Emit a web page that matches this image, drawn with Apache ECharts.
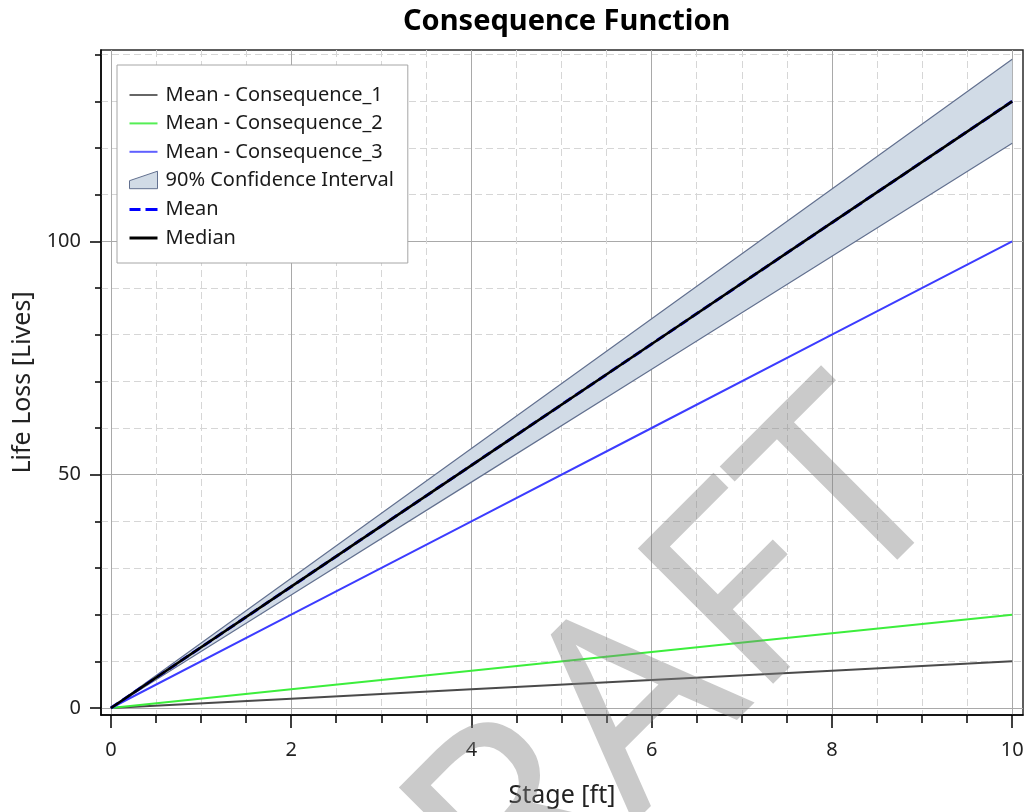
<!DOCTYPE html>
<html>
<head>
<meta charset="utf-8">
<title>Consequence Function</title>
<script src="https://cdn.jsdelivr.net/npm/echarts@6/dist/echarts.min.js"></script>
<style>
  html, body { margin: 0; padding: 0; background: #ffffff; }
  #chart { width: 1027px; height: 812px; }
</style>
</head>
<body>
<div id="chart"></div>
<script>
// Stage values (ft) and life loss per curve
const stage = [0, 2, 4, 6, 8, 10];
const consequence1 = [0, 2, 4, 6, 8, 10];
const consequence2 = [0, 4, 8, 12, 16, 20];
const consequence3 = [0, 20, 40, 60, 80, 100];
const meanTotal = [0, 26, 52, 78, 104, 130];
const medianTotal = [0, 26, 52, 78, 104, 130];
const ciLower = [0, 24.2, 48.4, 72.6, 96.8, 121];
const ciUpper = [0, 27.8, 55.6, 83.4, 111.2, 139];

// Axis ticks
const xMajorTicks = [0, 2, 4, 6, 8, 10];
const xMinorTicks = [0.5, 1, 1.5, 2.5, 3, 3.5, 4.5, 5, 5.5, 6.5, 7, 7.5, 8.5, 9, 9.5];
const yMajorTicks = [0, 50, 100];
const yMinorTicks = [10, 20, 30, 40, 60, 70, 80, 90, 110, 120, 130, 140];

const FONT = '"Noto Sans", "Open Sans", sans-serif';
const pairs = (ys) => stage.map((x, i) => [x, ys[i]]);

const X_RANGE = { min: -0.11, max: 10.12 };
const Y_RANGE = { min: -1.5, max: 141 };

// Legend icon shapes (degenerate corner points fix the icon box to 32x20)
const BOX = 'M0,0 L0,0 M32,20 L32,20 ';
const ICON_LINE = 'path://' + BOX + 'M1,9 L29,9 L29,11 L1,11 Z';
const ICON_THICK = 'path://' + BOX + 'M1,8.5 L29,8.5 L29,11.5 L1,11.5 Z';
const ICON_DASH = 'path://' + BOX + 'M1,8.5 L12,8.5 L12,11.5 L1,11.5 Z M17,8.5 L29,8.5 L29,11.5 L17,11.5 Z';
const ICON_BAND = 'path://' + BOX + 'M1,10 L29,0.5 L29,18 L1,18 Z';

const BAND_FILL = '#d1dbe6';
const BAND_EDGE = '#62708f';

// Shaded 90% band: one polygon running along the upper bound and back along the lower bound
function renderBand(params, api) {
  if (params.dataIndex !== 0) return null;
  const pts = [];
  for (let i = 0; i < stage.length; i++) pts.push(api.coord([stage[i], ciUpper[i]]));
  for (let i = stage.length - 1; i >= 0; i--) pts.push(api.coord([stage[i], ciLower[i]]));
  return {
    type: 'polygon',
    shape: { points: pts },
    style: { fill: BAND_FILL, stroke: null }
  };
}

const chart = echarts.init(document.getElementById('chart'), null, { renderer: 'canvas' });

const minorSplit = { show: true, lineStyle: { color: '#d6d6d6', width: 1, type: [7, 4] } };
const majorSplit = { show: true, lineStyle: { color: '#a9a9a9', width: 1 } };

chart.setOption({
  animation: false,
  backgroundColor: '#ffffff',
  title: {
    text: 'Consequence Function',
    left: 398,
    top: 2,
    textStyle: { fontFamily: FONT, fontSize: 29, fontWeight: 'bold', color: '#000000' }
  },
  grid: {
    left: 101, right: 4, top: 50, bottom: 97,
    show: true, borderColor: '#2a2a2a', borderWidth: 1.5,
    backgroundColor: '#ffffff',
    containLabel: false,
    outerBoundsMode: 'none'
  },
  legend: {
    orient: 'vertical',
    left: 117,
    top: 65,
    padding: [20, 14, 15, 11],
    itemWidth: 32,
    itemHeight: 20,
    itemGap: 8.4,
    backgroundColor: '#ffffff',
    borderColor: '#a6a6a6',
    borderWidth: 1,
    borderRadius: 0,
    selectedMode: false,
    textStyle: { fontFamily: FONT, fontSize: 20, color: '#1a1a1a', lineHeight: 20 },
    data: [
      { name: 'Mean - Consequence_1', icon: ICON_LINE, itemStyle: { color: '#666666', borderWidth: 0 } },
      { name: 'Mean - Consequence_2', icon: ICON_LINE, itemStyle: { color: '#55ee55', borderWidth: 0 } },
      { name: 'Mean - Consequence_3', icon: ICON_LINE, itemStyle: { color: '#6060ff', borderWidth: 0 } },
      { name: '90% Confidence Interval', icon: ICON_BAND, itemStyle: { color: BAND_FILL, borderColor: BAND_EDGE, borderWidth: 1 } },
      { name: 'Mean', icon: ICON_DASH, itemStyle: { color: '#0000ff', borderWidth: 0 } },
      { name: 'Median', icon: ICON_THICK, itemStyle: { color: '#000000', borderWidth: 0 } }
    ]
  },
  xAxis: [
    {
      type: 'value', gridIndex: 0, position: 'bottom',
      min: X_RANGE.min, max: X_RANGE.max,
      name: 'Stage [ft]', nameLocation: 'middle', nameGap: 68,
      nameTextStyle: { fontFamily: FONT, fontSize: 25, color: '#222222' },
      axisLine: { show: true, onZero: false, lineStyle: { color: '#000000', width: 1.5 } },
      axisTick: { show: true, inside: false, length: 13, customValues: xMajorTicks, lineStyle: { color: '#000000', width: 1.5 } },
      axisLabel: { show: true, customValues: xMajorTicks, margin: 25, fontFamily: FONT, fontSize: 20, color: '#222222' },
      splitLine: majorSplit
    },
    {
      type: 'value', gridIndex: 0, position: 'bottom',
      min: X_RANGE.min, max: X_RANGE.max,
      axisLine: { show: false, onZero: false },
      axisTick: { show: true, inside: false, length: 8, customValues: xMinorTicks, lineStyle: { color: '#000000', width: 1.5 } },
      axisLabel: { show: false },
      splitLine: minorSplit
    }
  ],
  yAxis: [
    {
      type: 'value', gridIndex: 0, position: 'left',
      min: Y_RANGE.min, max: Y_RANGE.max,
      name: 'Life Loss [Lives]', nameLocation: 'middle', nameGap: 64,
      nameTextStyle: { fontFamily: FONT, fontSize: 25, color: '#222222' },
      axisLine: { show: true, onZero: false, lineStyle: { color: '#000000', width: 1.5 } },
      axisTick: { show: true, inside: false, length: 11, customValues: yMajorTicks, lineStyle: { color: '#000000', width: 1.5 } },
      axisLabel: { show: true, customValues: yMajorTicks, margin: 20, fontFamily: FONT, fontSize: 20, color: '#222222' },
      splitLine: majorSplit
    },
    {
      type: 'value', gridIndex: 0, position: 'left',
      min: Y_RANGE.min, max: Y_RANGE.max,
      axisLine: { show: false, onZero: false },
      axisTick: { show: true, inside: false, length: 6, customValues: yMinorTicks, lineStyle: { color: '#000000', width: 1.5 } },
      axisLabel: { show: false },
      splitLine: minorSplit
    }
  ],
  series: [
    {
      name: '90% Confidence Interval', type: 'custom',
      xAxisIndex: 0, yAxisIndex: 0,
      renderItem: renderBand,
      itemStyle: { color: BAND_FILL },
      data: stage.map((x, i) => [x, ciLower[i], ciUpper[i]]),
      encode: { x: 0, y: [1, 2] },
      z: 1
    },
    {
      name: 'CI lower bound', type: 'line', symbol: 'none',
      xAxisIndex: 0, yAxisIndex: 0,
      data: pairs(ciLower),
      lineStyle: { color: BAND_EDGE, width: 1.2 }
    },
    {
      name: 'CI upper bound', type: 'line', symbol: 'none',
      xAxisIndex: 0, yAxisIndex: 0,
      data: pairs(ciUpper),
      lineStyle: { color: BAND_EDGE, width: 1.2 }
    },
    {
      name: 'Mean - Consequence_1', type: 'line', symbol: 'none',
      xAxisIndex: 0, yAxisIndex: 0,
      data: pairs(consequence1),
      lineStyle: { color: '#4a4a4a', width: 2 }
    },
    {
      name: 'Mean - Consequence_2', type: 'line', symbol: 'none',
      xAxisIndex: 0, yAxisIndex: 0,
      data: pairs(consequence2),
      lineStyle: { color: '#3cee3c', width: 2 }
    },
    {
      name: 'Mean - Consequence_3', type: 'line', symbol: 'none',
      xAxisIndex: 0, yAxisIndex: 0,
      data: pairs(consequence3),
      lineStyle: { color: '#3c3cff', width: 2 }
    },
    {
      name: 'Mean', type: 'line', symbol: 'none',
      xAxisIndex: 0, yAxisIndex: 0,
      data: pairs(meanTotal),
      lineStyle: { color: '#1010ff', width: 3, type: [9, 5] }
    },
    {
      name: 'Median', type: 'line', symbol: 'none',
      xAxisIndex: 0, yAxisIndex: 0,
      data: pairs(medianTotal),
      lineStyle: { color: '#000000', width: 2.6 }
    }
  ],
  graphic: [
    {
      type: 'text',
      x: 614, y: 735,
      rotation: Math.PI / 4,
      z: 100,
      silent: true,
      style: {
        text: 'DRAFT',
        fontFamily: FONT,
        fontSize: 268,
        fontWeight: 'normal',
        fill: 'rgba(128,128,128,0.42)',
        textAlign: 'center',
        textVerticalAlign: 'middle'
      }
    }
  ]
});
</script>
</body>
</html>
